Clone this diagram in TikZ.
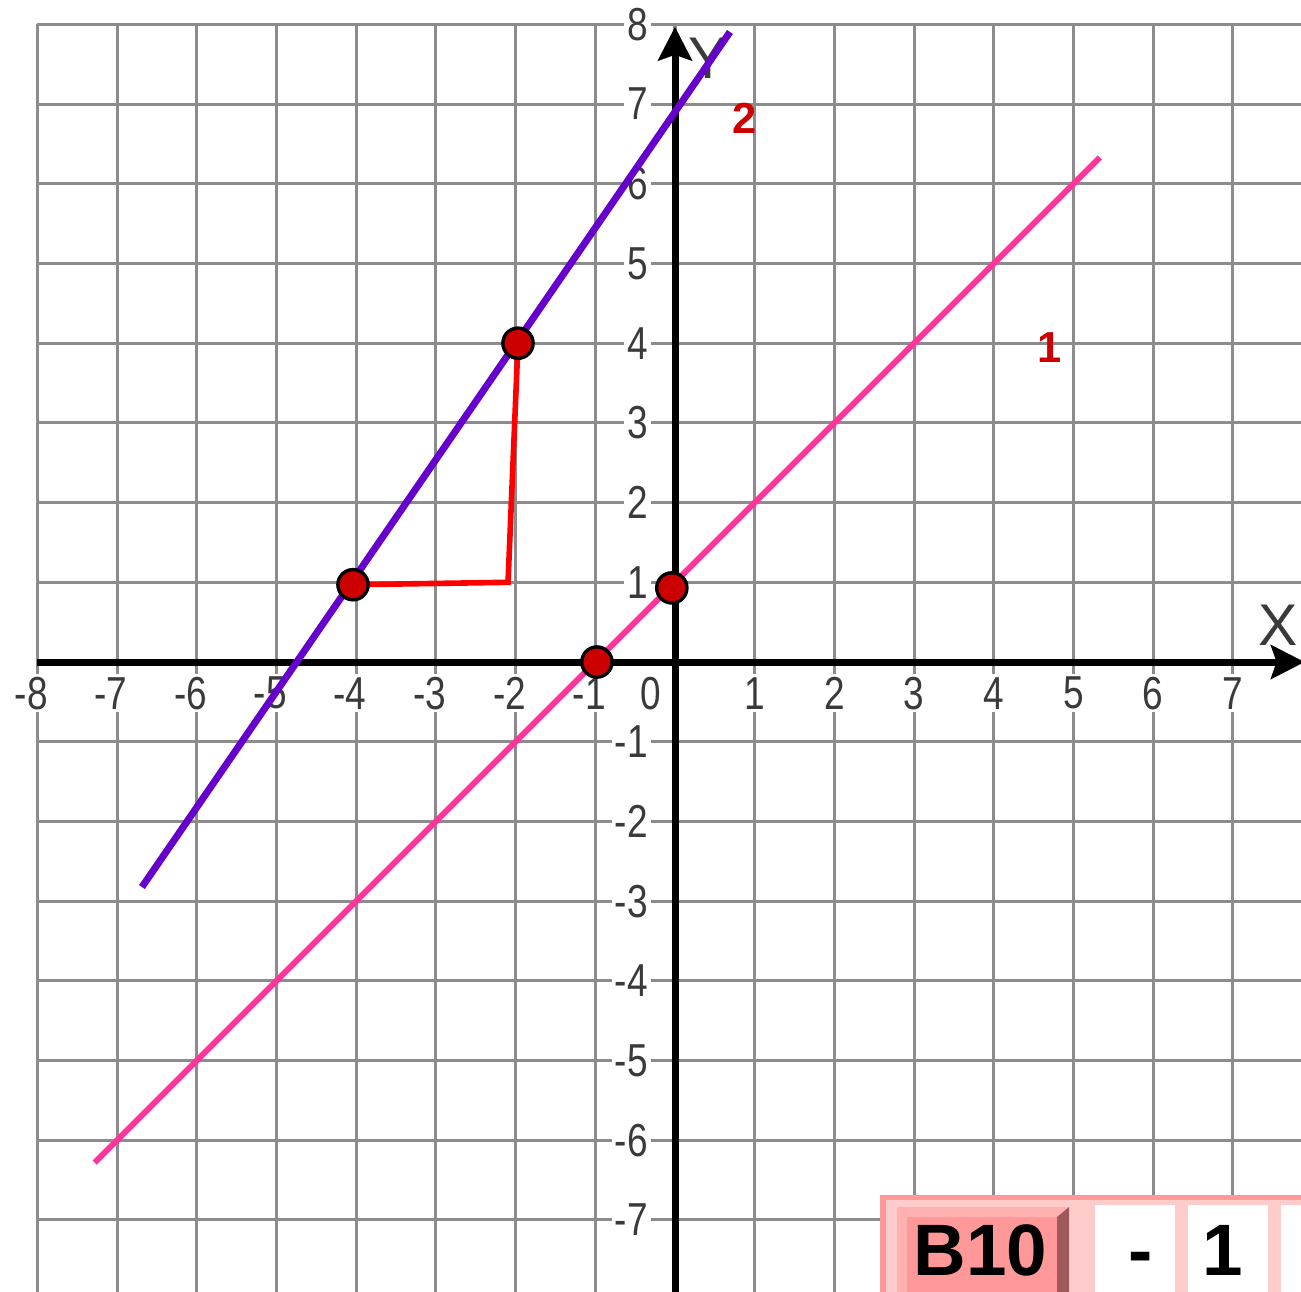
\documentclass[tikz,border=0pt]{standalone}
\usepackage{fontspec}
\setmainfont{Liberation Sans}
\newfontfamily\axisfont[FakeStretch=0.8]{Liberation Sans}
\usetikzlibrary{arrows.meta}

\definecolor{gridgray}{HTML}{8C8C8C}
\definecolor{labelgray}{HTML}{3A3A3A}
\definecolor{lineone}{HTML}{FF3399}
\definecolor{linetwo}{HTML}{6600CC}
\definecolor{dotred}{HTML}{CC0000}
\definecolor{anglered}{HTML}{FF0000}
\definecolor{panelborder}{HTML}{FF9999}
\definecolor{panelpink}{HTML}{FFCCCC}
\definecolor{buttonface}{HTML}{FF9999}
\definecolor{bevellight}{HTML}{FFB0B0}
\definecolor{beveldark}{HTML}{9E5A5A}

\begin{document}
\begin{tikzpicture}[
    gridline/.style={draw=gridgray, line width=1.1pt},
    axis/.style={line width=2.5pt, -{Stealth[length=12pt, width=12pt, inset=2pt]}},
    tick/.style={font=\axisfont\fontsize{16.5}{16.5}\selectfont, text=labelgray, fill=white, inner sep=1pt},
    axlabel/.style={font=\fontsize{21}{21}\selectfont, text=labelgray, inner sep=0pt},
    linelabel/.style={font=\bfseries\fontsize{15.5}{15.5}\selectfont, text=dotred, inner sep=0pt},
    lineA/.style={draw=lineone, line width=2.1pt},
    lineB/.style={draw=linetwo, line width=2.5pt},
    rightangle/.style={draw=anglered, line width=2pt},
    dot/.style={circle, draw=black, line width=1.2pt, fill=dotred, minimum size=0.38cm, inner sep=0pt},
    answer/.style={font=\bfseries\fontsize{26}{26}\selectfont, text=black, inner sep=0pt, anchor=base}
]
\clip (-8.469,-7.892) rectangle (7.854,8.306);
\fill[white] (-8.469,-7.892) rectangle (7.854,8.306);

% Grid
\draw[gridline] (-8,-8) grid (8,8);

% Tick labels
\foreach \x in {1,...,8}
    \node[tick] (xm\x) at (-\x,-0.39) {\llap{-}\x};
\foreach \x in {1,...,7}
    \node[tick] (xp\x) at (\x,-0.39) {\x};
\node[tick] (orig) at (-0.31,-0.39) {0};
\foreach \y in {1,...,8}
    \node[tick, anchor=east] (yp\y) at (-0.30,\y) {\y};
\foreach \y in {1,...,7}
    \node[tick, anchor=east] (ym\y) at (-0.30,-\y) {-\y};

% Axes
\coordinate (xstart) at (-8,0);
\coordinate (xend) at (7.90,0);
\coordinate (ystart) at (0,-8);
\coordinate (yend) at (0,7.97);
\draw[axis] (xstart) -- (xend);
\draw[axis] (ystart) -- (yend);
\node[axlabel] (xname) at (7.566,0.464) {X};
\node[axlabel] (yname) at (0.41,7.58) {Y};

% Line 1 and line 2
\coordinate (l1s) at (-7.28,-6.28);
\coordinate (l1e) at (5.33,6.33);
\coordinate (l2s) at (-6.688,-2.823);
\coordinate (l2e) at (0.69,7.905);
\draw[lineA] (l1s) -- (l1e);
\draw[lineB] (l2s) -- (l2e);
\node[linelabel] (name1) at (4.705,3.94) {1};
\node[linelabel] (name2) at (0.878,6.826) {2};

% Rise and run
\coordinate (pA) at (-4.04,0.97);
\coordinate (pB) at (-1.97,4.0);
\coordinate (corner) at (-2.095,1.0);
\draw[rightangle] (pA) -- (corner) -- (pB);

% Points
\node[dot] (A) at (pA) {};
\node[dot] (B) at (pB) {};
\node[dot] (C) at (-0.04,0.93) {};
\node[dot] (D) at (-0.98,0) {};

% Answer panel
\fill[panelborder] (2.572,-6.688) rectangle (8,-8);
\fill[panelpink] (2.647,-6.75) rectangle (8,-8);
\fill[bevellight] (2.785,-6.838) rectangle (4.944,-8);
\fill[beveldark] (4.793,-6.964) -- (4.944,-6.838) -- (4.944,-8) -- (4.793,-8) -- cycle;
\fill[buttonface] (2.911,-6.964) rectangle (4.793,-8);
\fill[white] (5.27,-6.813) rectangle (6.274,-8);
\fill[white] (6.437,-6.813) rectangle (7.44,-8);
\fill[white] (7.603,-6.813) rectangle (8,-8);
\node[answer] (task) at (3.83,-7.70) {B10};
\node[answer] (dash) at (5.847,-7.70) {-};
\node[answer] (digit) at (6.876,-7.70) {1};

\end{tikzpicture}
\end{document}
